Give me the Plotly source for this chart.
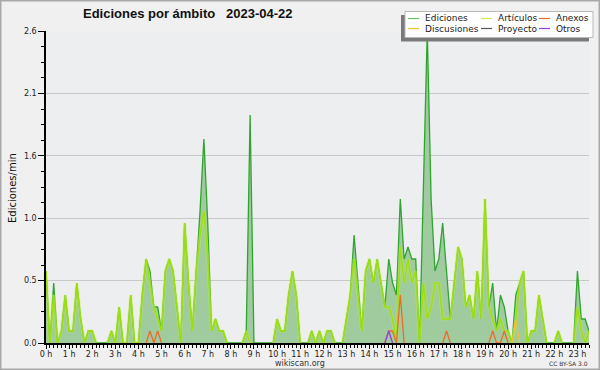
import plotly.graph_objects as go

# 10-minute slots from 0:00 to 23:30
slot_minutes = list(range(0, 1420, 10))
hour_ticks = list(range(0, 1440, 60))
hour_labels = [f"{h} h" for h in range(24)]
y_ticks = [0, 0.52, 1.04, 1.56, 2.08, 2.6]
y_labels = ["0.0", "0.5", "1.0", "1.6", "2.1", "2.6"]

# Ediciones/min per slot (one row per hour)
ediciones = [
    0.6, 0, 0.5, 0, 0.1, 0.4,
    0.1, 0.1, 0.5, 0.2, 0, 0.1,
    0.1, 0, 0, 0, 0, 0.1,
    0, 0.3, 0, 0, 0.4, 0,
    0, 0.4, 0.7, 0.6, 0.3, 0.3,
    0.1, 0.6, 0.7, 0.6, 0.3, 0,
    1.0, 0.5, 0.1, 0.6, 1.1, 1.7,
    1.0, 0.1, 0.2, 0.1, 0.1, 0,
    0, 0, 0, 0, 0.1, 1.9,
    0, 0, 0, 0, 0, 0,
    0.2, 0.1, 0.1, 0.4, 0.6, 0.4,
    0, 0, 0, 0.1, 0, 0.1,
    0, 0.1, 0.1, 0, 0, 0,
    0.2, 0.4, 0.9, 0.5, 0.1, 0.6,
    0.7, 0.5, 0.7, 0.5, 0.3, 0.7,
    0.5, 0.4, 1.2, 0.7, 0.8, 0.7,
    0.7, 0, 1.3, 2.6, 1.2, 0.6,
    0.7, 1.0, 0.6, 0.2, 0.5, 0.8,
    0.7, 0.3, 0.4, 0.2, 0.6, 0.2,
    1.2, 0.3, 0.5, 0.1, 0.4, 0.3,
    0.1, 0, 0.4, 0.5, 0.6, 0,
    0.1, 0.1, 0.4, 0.2, 0, 0,
    0, 0.1, 0, 0, 0, 0,
    0.6, 0.2, 0.2, 0.1,
]

articulos = [
    0.6, 0, 0.4, 0, 0.1, 0.4,
    0.1, 0.1, 0.5, 0.2, 0, 0.1,
    0.1, 0, 0, 0, 0, 0.1,
    0, 0.3, 0, 0, 0.4, 0,
    0, 0.4, 0.7, 0.5, 0.3, 0.2,
    0.1, 0.6, 0.7, 0.6, 0.3, 0,
    1.0, 0.5, 0.1, 0.6, 0.9, 1.1,
    0.7, 0.1, 0.2, 0.1, 0.1, 0,
    0, 0, 0, 0, 0.1, 0,
    0, 0, 0, 0, 0, 0,
    0.2, 0.1, 0.1, 0.4, 0.6, 0.4,
    0, 0, 0, 0.1, 0, 0.1,
    0, 0.1, 0.1, 0, 0, 0,
    0.2, 0.4, 0.7, 0.4, 0.1, 0.6,
    0.7, 0.5, 0.7, 0.5, 0.3, 0.3,
    0.2, 0, 0.8, 0.5, 0.7, 0.5,
    0.6, 0, 0.5, 0.2, 0.3, 0.5,
    0.5, 0.2, 0.2, 0.2, 0.5, 0.8,
    0.7, 0.3, 0.4, 0.2, 0.6, 0.2,
    1.2, 0.3, 0.2, 0.1, 0.2, 0.1,
    0.1, 0, 0.2, 0.5, 0.6, 0,
    0.1, 0.1, 0.4, 0.2, 0, 0,
    0, 0.1, 0, 0, 0, 0,
    0.3, 0.1, 0, 0.1,
]

# sparse series: slot index -> value
anexos_slots = [27, 29, 89, 90, 92, 104, 116, 119]
anexos_vals = [0.1, 0.1, 0.1, 0.1, 0.4, 0.1, 0.1, 0.1]
discusiones_slots = [122]
discusiones_vals = [0.2]
proyecto_slots = []
proyecto_vals = []
otros_slots = [89]
otros_vals = [0.1]


def expand(slots, vals):
    out = [0.0] * len(slot_minutes)
    for s, v in zip(slots, vals):
        out[s] = v
    return out


def hide_flat_zeros(vals):
    n = len(vals)
    res = []
    for i, v in enumerate(vals):
        left = vals[i - 1] if i > 0 else 0
        right = vals[i + 1] if i < n - 1 else 0
        res.append(None if (v == 0 and left == 0 and right == 0) else v)
    return res


anexos = expand(anexos_slots, anexos_vals)
discusiones = expand(discusiones_slots, discusiones_vals)
proyecto = expand(proyecto_slots, proyecto_vals)
otros = expand(otros_slots, otros_vals)

C_ED = "#2fa52f"
C_ED_LEG = "#66c866"
C_ART = "#9ede10"
C_ANX = "#ee6a2a"
C_DIS = "#f2c230"
C_PRO = "#555555"
C_OTR = "#9040e0"

fig = go.Figure()
fig.add_trace(go.Scatter(x=slot_minutes, y=ediciones, mode="lines", fill="tozeroy",
                         fillcolor="#9fcb9f", line=dict(color=C_ED, width=1.3),
                         showlegend=False, hoverinfo="skip"))
fig.add_trace(go.Scatter(x=slot_minutes, y=hide_flat_zeros(proyecto), mode="lines",
                         line=dict(color=C_PRO, width=1.2), showlegend=False, connectgaps=False))
fig.add_trace(go.Scatter(x=slot_minutes, y=hide_flat_zeros(articulos), mode="lines",
                         line=dict(color="rgba(190,240,80,0.4)", width=3.2),
                         showlegend=False, connectgaps=False, hoverinfo="skip"))
fig.add_trace(go.Scatter(x=slot_minutes, y=hide_flat_zeros(articulos), mode="lines",
                         line=dict(color=C_ART, width=1.5), showlegend=False, connectgaps=False))
fig.add_trace(go.Scatter(x=slot_minutes, y=hide_flat_zeros(discusiones), mode="lines",
                         line=dict(color=C_DIS, width=1.3), showlegend=False, connectgaps=False))
fig.add_trace(go.Scatter(x=slot_minutes, y=hide_flat_zeros(anexos), mode="lines",
                         line=dict(color=C_ANX, width=1.3), showlegend=False, connectgaps=False))
fig.add_trace(go.Scatter(x=slot_minutes, y=hide_flat_zeros(otros), mode="lines",
                         line=dict(color=C_OTR, width=1.3), showlegend=False, connectgaps=False))

L, R, T, B = 46, 11, 31, 27
W, H = 600, 370
PW, PH = W - L - R, H - T - B


def px(x):
    return (x - L) / PW


def py(y):
    return (H - B - y) / PH


shapes = [
    # figure border
    dict(type="rect", xref="paper", yref="paper", x0=px(0.75), x1=px(599.25), y0=py(369.25), y1=py(0.75),
         line=dict(color="#a8a8a8", width=1.5), fillcolor="rgba(0,0,0,0)", layer="above"),
    # legend shadow and box
    dict(type="rect", xref="paper", yref="paper", x0=px(401), x1=px(589), y0=py(41.5), y1=py(15),
         line=dict(width=0), fillcolor="#7a7a7a", layer="above"),
    dict(type="rect", xref="paper", yref="paper", x0=px(405), x1=px(593), y0=py(37.5), y1=py(11.5),
         line=dict(color="#b8b8b8", width=1), fillcolor="#ffffff", layer="above"),
]

legend_items = [
    ("Ediciones", C_ED_LEG, 408, 18.5),
    ("Artículos", "#c8ec50", 481, 18.5),
    ("Anexos", C_ANX, 539, 18.5),
    ("Discusiones", C_DIS, 408, 28.5),
    ("Proyecto", C_PRO, 481, 28.5),
    ("Otros", C_OTR, 539, 28.5),
]
annotations = []
for name, col, x0, yy in legend_items:
    shapes.append(dict(type="line", xref="paper", yref="paper", x0=px(x0), x1=px(x0 + 11),
                       y0=py(yy), y1=py(yy), line=dict(color=col, width=1.2), layer="above"))
    annotations.append(dict(text=name, xref="paper", yref="paper", x=px(x0 + 15), y=py(yy),
                            xanchor="left", yanchor="middle", showarrow=False,
                            font=dict(family="DejaVu Sans", size=9, color="#222222")))

annotations += [
    dict(text="<b>Ediciones por ámbito\u00a0\u00a0 2023-04-22</b>", xref="paper", yref="paper",
         x=px(188), y=py(14), xanchor="center", yanchor="middle", showarrow=False,
         font=dict(family="Liberation Sans", size=13, color="#111111")),
    dict(text="Ediciones/min", xref="paper", yref="paper", x=px(12), y=py(188),
         xanchor="center", yanchor="middle", textangle=-90, showarrow=False,
         font=dict(family="DejaVu Sans", size=10, color="#111111")),
    dict(text="wikiscan.org", xref="paper", yref="paper", x=px(300), y=py(363.5),
         xanchor="center", yanchor="middle", showarrow=False,
         font=dict(family="DejaVu Sans", size=8, color="#333333")),
    dict(text="CC BY-SA 3.0", xref="paper", yref="paper", x=px(590), y=py(363),
         xanchor="right", yanchor="middle", showarrow=False,
         font=dict(family="DejaVu Sans", size=6, color="#333333")),
]

fig.update_layout(
    width=W, height=H,
    margin=dict(l=L, r=R, t=T, b=B, pad=0),
    paper_bgcolor="#f0f0f0",
    plot_bgcolor="#edeef0",
    showlegend=False,
    shapes=shapes,
    annotations=annotations,
    xaxis=dict(
        range=[0, slot_minutes[-1]],
        tickmode="array", tickvals=hour_ticks, ticktext=hour_labels,
        ticks="outside", ticklen=4, tickwidth=1, tickcolor="#000000",
        ticklabelstandoff=-2,
        showline=True, linecolor="#000000", linewidth=2,
        showgrid=False, zeroline=False,
        tickfont=dict(family="DejaVu Sans", size=8, color="#222222"),
        minor=dict(tickmode="linear", tick0=0, dtick=10, ticks="outside", ticklen=3,
                   tickwidth=1, tickcolor="#000000", showgrid=False),
        fixedrange=True,
    ),
    yaxis=dict(
        range=[0, 2.6],
        tickmode="array", tickvals=y_ticks, ticktext=y_labels,
        ticks="outside", ticklen=6, tickwidth=1, tickcolor="#000000",
        showline=True, linecolor="#000000", linewidth=1.5,
        showgrid=True, gridcolor="#c8c8c8", gridwidth=1, zeroline=False,
        tickfont=dict(family="DejaVu Sans", size=8, color="#222222"),
        minor=dict(tickmode="linear", tick0=0, dtick=0.13, ticks="outside", ticklen=3,
                   tickwidth=1, tickcolor="#000000", showgrid=False),
        fixedrange=True,
    ),
)

fig.write_html("out.html", config={"displayModeBar": False},
               post_script="document.body.style.margin='0';document.body.style.padding='0';")
